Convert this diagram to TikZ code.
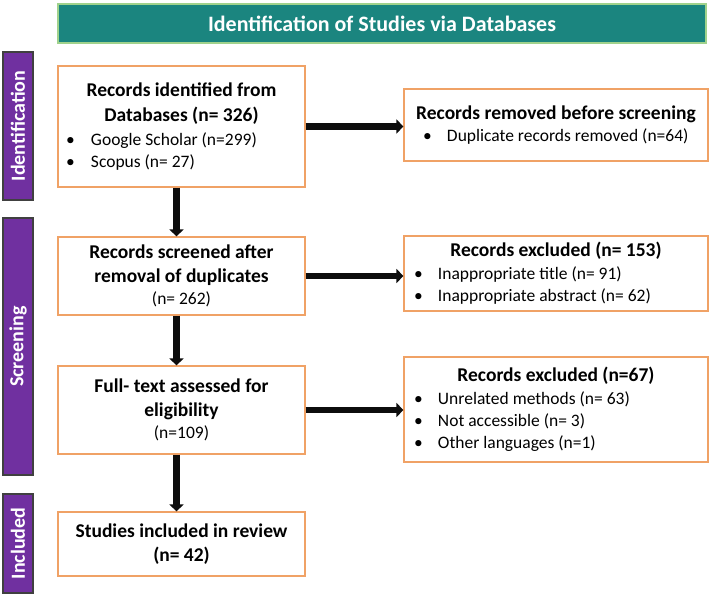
\documentclass[tikz,border=0pt]{standalone}
\usepackage{fontspec}
\setmainfont{Carlito}
\usetikzlibrary{arrows.meta}
\definecolor{teal1}{RGB}{27,133,127}
\definecolor{green1}{RGB}{160,210,140}
\definecolor{purple1}{RGB}{112,48,160}
\definecolor{gray1}{RGB}{64,64,64}
\definecolor{orange1}{RGB}{240,162,102}
\definecolor{arrowc}{RGB}{13,13,13}
\newcommand{\hd}{\fontsize{19.5}{24.5}\selectfont\bfseries}
\newcommand{\bd}{\fontsize{17.5}{22}\selectfont\mdseries}
\newcommand{\bitem}[3]{\hspace*{#1}\makebox[#2][l]{•}#3}
\tikzset{
  box/.style={draw=orange1, line width=1.2pt, fill=white, inner sep=0pt, anchor=center},
  side/.style={draw=gray1, line width=1.2pt, fill=purple1, inner sep=0pt},
  sidetext/.style={text=white, font=\fontsize{20}{24}\selectfont\bfseries, rotate=90},
  flow/.style={draw=arrowc, line width=6.5pt, -{Triangle[width=14pt,length=7pt]}},
}
\begin{document}
\begin{tikzpicture}[x=1pt,y=-1pt]
\useasboundingbox (0,0) rectangle (714,597);
% title
\node[draw=green1, line width=1.5pt, fill=teal1, minimum width=648pt, minimum height=39pt, inner sep=0pt,
  text=white, font=\fontsize{22}{26}\selectfont\bfseries] (title) at (382,23.5) {Identification of Studies via Databases};
% side bars
\node[side, minimum width=30pt, minimum height=148pt] (sid) at (18,126) {};
\node[sidetext] (sidt) at (sid.center) {Identification};
\node[side, minimum width=30pt, minimum height=257pt] (sscr) at (18,346.5) {};
\node[sidetext] (sscrt) at (sscr.center) {Screening};
\node[side, minimum width=30pt, minimum height=99pt] (sinc) at (18,543.5) {};
\node[sidetext] (sinct) at (sinc.center) {Included};
% left boxes
\node[box, minimum width=247pt, minimum height=121pt] (b1) at (181.5,126.5) {%
\begin{minipage}{247pt}\centering\hd Records identified from\\Databases (n= 326)\par\vspace{2pt}
\raggedright\bd\bitem{8pt}{25pt}{Google Scholar (n=299)}\\\bitem{8pt}{25pt}{Scopus (n= 27)}\par\end{minipage}};
\node[box, minimum width=247pt, minimum height=78pt] (b2) at (181.5,276) {%
\begin{minipage}{247pt}\centering\hd Records screened after\\removal of duplicates\par
\bd (n= 262)\par\end{minipage}};
\node[box, minimum width=247pt, minimum height=88pt] (b3) at (181.5,410) {%
\begin{minipage}{247pt}\centering\hd Full- text assessed for\\eligibility\par
\bd (n=109)\par\end{minipage}};
\node[box, minimum width=247pt, minimum height=64pt] (b4) at (181.5,544) {%
\begin{minipage}{247pt}\centering\hd Studies included in review\\(n= 42)\par\end{minipage}};
% right boxes
\node[box, minimum width=304pt, minimum height=72pt] (r1) at (556,125) {%
\begin{minipage}{304pt}\centering\hd Records removed before screening\par
\raggedright\bd\bitem{19pt}{24pt}{Duplicate records removed (n=64)}\par\end{minipage}};
\node[box, minimum width=304pt, minimum height=75pt] (r2) at (556,273.5) {%
\begin{minipage}{304pt}\centering\hd Records excluded (n= 153)\par\vspace{1pt}
\raggedright\bd\bitem{10pt}{24pt}{Inappropriate title (n= 91)}\\\bitem{10pt}{24pt}{Inappropriate abstract (n= 62)}\par\end{minipage}};
\node[box, minimum width=304pt, minimum height=105pt] (r3) at (556,409.5) {%
\begin{minipage}{304pt}\centering\hd Records excluded (n=67)\par\vspace{1pt}
\raggedright\bd\bitem{10pt}{24pt}{Unrelated methods (n= 63)}\\\bitem{10pt}{24pt}{Not accessible (n= 3)}\\\bitem{10pt}{24pt}{Other languages (n=1)}\par\end{minipage}};
% arrows
\draw[flow] (b1.east) -- (b1.east -| r1.west);
\draw[flow] (b2.east) -- (b2.east -| r2.west);
\draw[flow] (b3.east) -- (b3.east -| r3.west);
\draw[flow] ([xshift=-5pt]b1.south) -- ([xshift=-5pt]b2.north);
\draw[flow] ([xshift=-5pt]b2.south) -- ([xshift=-5pt]b3.north);
\draw[flow] ([xshift=-5pt]b3.south) -- ([xshift=-5pt]b4.north);
\end{tikzpicture}
\end{document}
